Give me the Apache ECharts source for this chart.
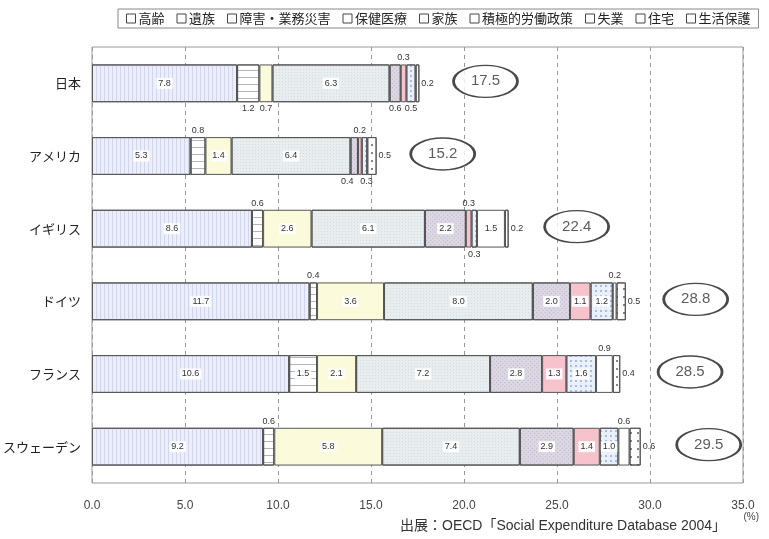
<!DOCTYPE html>
<html>
<head>
<meta charset="utf-8">
<script src="https://cdn.jsdelivr.net/npm/echarts@6/dist/echarts.min.js"></script>
<style>
  html, body { margin: 0; padding: 0; background: #fff; }
  #chart { width: 769px; height: 539px; }
</style>
</head>
<body>
<div id="chart"></div>
<script>
// Social expenditure by function, % of GDP (OECD SOCX 2004)
const countries = ['日本', 'アメリカ', 'イギリス', 'ドイツ', 'フランス', 'スウェーデン'];
const functionNames = ['高齢', '遺族', '障害・業務災害', '保健医療', '家族', '積極的労働政策', '失業', '住宅', '生活保護'];

const oldAge       = [7.8, 5.3, 8.6, 11.7, 10.6, 9.2];
const survivors    = [1.2, 0.8, 0.6, 0.4, 1.5, 0.6];
const incapacity   = [0.7, 1.4, 2.6, 3.6, 2.1, 5.8];
const health       = [6.3, 6.4, 6.1, 8.0, 7.2, 7.4];
const family       = [0.6, 0.4, 2.2, 2.0, 2.8, 2.9];
const activeLabour = [0.3, 0.2, 0.3, 1.1, 1.3, 1.4];
const unemployment = [0.5, 0.3, 0.3, 1.2, 1.6, 1.0];
const housing      = [0, 0, 1.5, 0.2, 0.9, 0.6];
const assistance   = [0.2, 0.5, 0.2, 0.5, 0.4, 0.6];
const totals       = [17.5, 15.2, 22.4, 28.8, 28.5, 29.5];

const xTicks = [0, 5, 10, 15, 20, 25, 30, 35];

const seriesValues = [oldAge, survivors, incapacity, health, family, activeLabour, unemployment, housing, assistance];

// where each value label sits, one row per country, one entry per function
const labelPlacement = [
  ['inside', 'bottom', 'bottom', 'inside', 'bottom', 'top', 'bottom', null, 'right'],
  ['inside', 'top', 'inside', 'inside', 'bottom', 'top', 'bottom', null, 'right'],
  ['inside', 'top', 'inside', 'inside', 'inside', 'top', 'bottom', 'inside', 'right'],
  ['inside', 'top', 'inside', 'inside', 'inside', 'inside', 'inside', 'top', 'right'],
  ['inside', 'inside', 'inside', 'inside', 'inside', 'inside', 'inside', 'top', 'right'],
  ['inside', 'top', 'inside', 'inside', 'inside', 'inside', 'inside', 'top', 'right']
];
// small nudges for crowded labels [country, function, dx]
const labelNudge = [[1, 4, -7], [1, 6, 2]];

// fills and hatch patterns for each function
const fills = ['#eceef9', '#ffffff', '#fbfbdc', '#e8eef0', '#dcd7e3', '#f6c3cc', '#eaf0fa', '#ffffff', '#ffffff'];
const hatches = [
  { symbol: 'rect', color: 'rgba(150,160,205,0.3)', dashArrayX: [1, 3], dashArrayY: [4, 0] },
  { symbol: 'rect', color: 'rgba(90,90,90,0.45)', dashArrayX: [4, 0], dashArrayY: [1, 6] },
  null,
  { symbol: 'circle', color: 'rgba(120,140,150,0.4)', symbolSize: 0.8, dashArrayX: [1, 2], dashArrayY: [1, 2] },
  { symbol: 'rect', color: 'rgba(120,110,140,0.35)', rotation: Math.PI / 4, dashArrayX: [1, 2], dashArrayY: [1, 2] },
  null,
  { symbol: 'circle', color: 'rgba(60,100,190,0.55)', symbolSize: 0.9, dashArrayX: [2, 3], dashArrayY: [2, 3] },
  null,
  { symbol: 'circle', color: 'rgba(30,30,30,0.8)', symbolSize: 0.9, dashArrayX: [2, 5], dashArrayY: [2, 6] }
];

function segmentData(values, fi) {
  return values.map(function (v, ci) {
    if (!v) return '-';
    const pos = labelPlacement[ci][fi];
    const nudge = labelNudge.find(function (n) { return n[0] === ci && n[1] === fi; });
    const label = { show: !!pos };
    if (pos) {
      label.position = pos;
      label.distance = pos === 'inside' ? 0 : 2;
      if (nudge) label.offset = [nudge[2], 0];
      if (pos === 'inside') {
        label.backgroundColor = 'rgba(255,255,255,0.9)';
        label.padding = [1, 2];
      }
    }
    return { value: v, label: label };
  });
}

const barSeries = functionNames.map(function (name, fi) {
  const style = { color: fills[fi], borderColor: '#555', borderWidth: 1 };
  if (hatches[fi]) style.decal = hatches[fi];
  return {
    name: name,
    type: 'bar',
    stack: 'total',
    barCategoryGap: '48%',
    itemStyle: style,
    emphasis: { disabled: true },
    label: {
      fontSize: 9,
      color: '#333',
      fontFamily: 'Liberation Sans, Arial, sans-serif',
      formatter: function (p) { return Number(p.value).toFixed(1); }
    },
    data: segmentData(seriesValues[fi], fi)
  };
});

const totalSeries = {
  name: '合計',
  type: 'scatter',
  symbol: 'circle',
  symbolSize: [64, 32],
  symbolOffset: [68, -2],
  z: 5,
  itemStyle: { color: '#fff', borderColor: '#1a1a1a', borderWidth: 2 },
  label: {
    show: true,
    position: 'inside',
    fontSize: 15,
    color: '#333',
    fontFamily: 'Liberation Sans, Arial, sans-serif',
    formatter: function (p) { return p.value[0].toFixed(1); }
  },
  emphasis: { disabled: true },
  data: totals.map(function (t, i) { return [t, i]; })
};

const chart = echarts.init(document.getElementById('chart'), null, { renderer: 'canvas' });
chart.setOption({
  backgroundColor: '#fff',
  animation: false,
  legend: {
    data: functionNames,
    left: 118,
    top: 9,
    padding: [3, 8],
    itemGap: 12,
    itemWidth: 9,
    itemHeight: 9,
    icon: 'rect',
    borderColor: '#888',
    borderWidth: 1,
    itemStyle: { color: '#fff', borderColor: '#444', borderWidth: 1, decal: 'none' },
    textStyle: { fontSize: 13, color: '#222', padding: [0, 0, 0, -2], fontFamily: 'Noto Sans CJK JP' },
    selectedMode: false
  },
  grid: {
    left: 92, right: 26, top: 47, bottom: 56,
    show: true, borderColor: '#9a9a9a', borderWidth: 1
  },
  xAxis: {
    type: 'value',
    min: xTicks[0],
    max: xTicks[xTicks.length - 1],
    interval: xTicks[1] - xTicks[0],
    axisLine: { show: false },
    axisTick: { show: false },
    splitLine: { show: true, lineStyle: { color: '#999', type: [4, 4], width: 1 } },
    axisLabel: {
      margin: 17,
      fontSize: 12,
      color: '#444',
      fontFamily: 'Liberation Sans, Arial, sans-serif',
      formatter: function (v) { return v.toFixed(1); }
    }
  },
  yAxis: {
    type: 'category',
    data: countries,
    inverse: true,
    axisLine: { show: false },
    axisTick: { show: false },
    axisLabel: { margin: 11, fontSize: 13, color: '#222', fontFamily: 'Noto Sans CJK JP' }
  },
  graphic: [
    {
      type: 'text', right: 10, top: 512,
      style: { text: '(%)', fontSize: 10, fill: '#444', fontFamily: 'Liberation Sans, Arial, sans-serif' }
    },
    {
      type: 'text', left: 400, top: 519,
      style: {
        text: '出展：OECD「Social Expenditure Database 2004」',
        fontSize: 14, fill: '#333', fontFamily: 'Liberation Sans, Noto Sans CJK JP, sans-serif'
      }
    }
  ],
  series: barSeries.concat([totalSeries])
});
</script>
</body>
</html>
